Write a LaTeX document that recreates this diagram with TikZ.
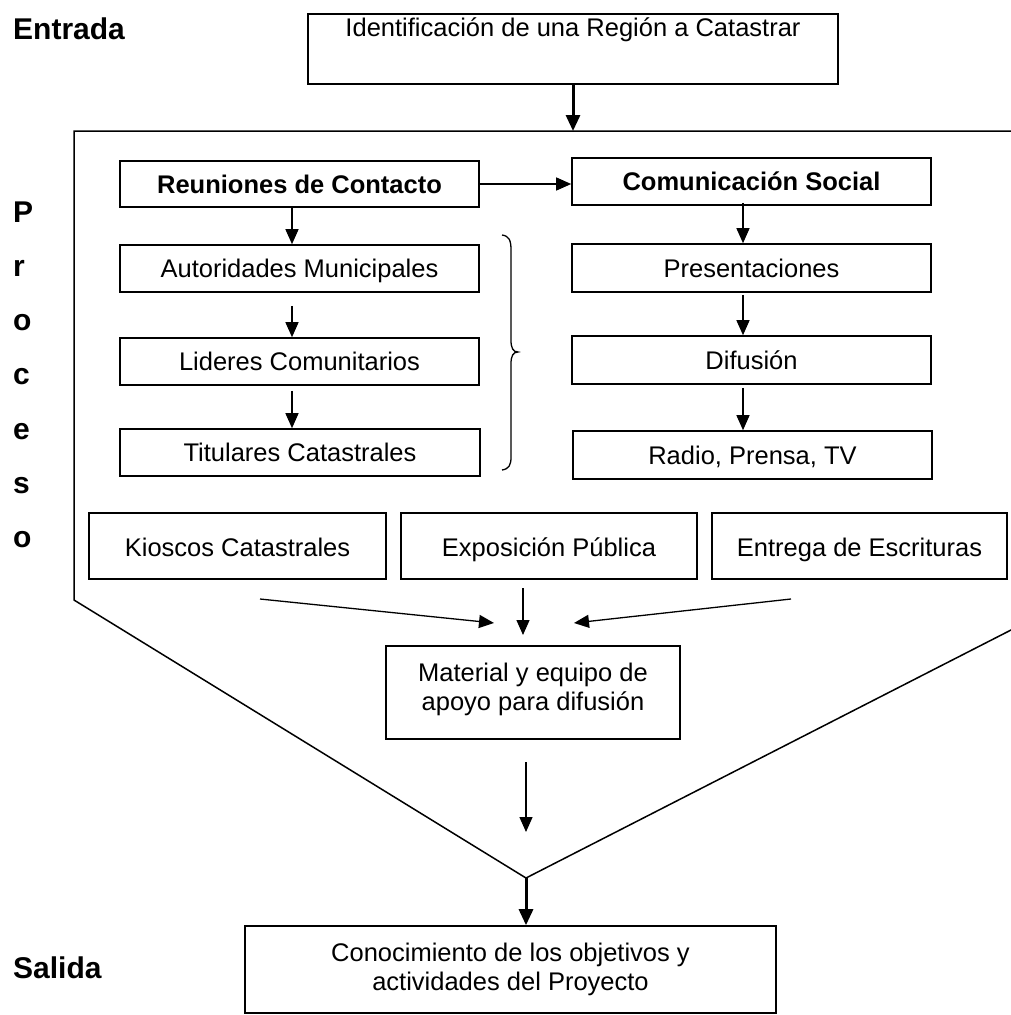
\documentclass[tikz,border=0pt]{standalone}
\usepackage{fontspec}
\setmainfont{Liberation Sans}
\usetikzlibrary{arrows.meta,calc}
\begin{document}
\begin{tikzpicture}[x=1pt,y=-1pt,
  box/.style={draw, line width=1.6pt, inner sep=0pt, rectangle},
  txt/.style={inner sep=0pt, anchor=base, font=\fontsize{25.5}{29.3}\selectfont},
  btxt/.style={inner sep=0pt, anchor=base, font=\fontsize{25.5}{29.3}\selectfont\bfseries},
  side/.style={inner sep=0pt, anchor=base west, font=\fontsize{30}{34}\selectfont\bfseries},
  thinarrow/.style={line width=1.3pt, -{Triangle[length=15pt,width=13pt]}},
  thickarrow/.style={line width=3pt, -{Triangle[length=16pt,width=14pt]}},
  frame/.style={line width=1.5pt}]

\useasboundingbox (0,0) rectangle (1011,1015);
\clip (0,0) rectangle (1011,1015);

% stage labels
\node[side] (lin) at (13,39) {Entrada};
\node[side] (lout) at (13,978) {Salida};
\foreach \ch [count=\i from 0] in {P,r,o,c,e,s,o}
  \node[side] (lp\i) at (13,222+54.3*\i) {\ch};

% input
\node[box, minimum width=530pt, minimum height=70pt] (top) at (573,49) {};
\node[txt] (toptxt) at (573,36) {Identificación de una Región a Catastrar};

% process frame
\coordinate (pin) at (573,131);
\coordinate (vtx) at (526,878);
\draw[frame] (1030,131) -- (74,131) -- (74,600) -- (vtx) -- ($(vtx)!1.1!(1011,630)$);

% left column
\node[box, minimum width=359pt, minimum height=46pt] (reun) at (299.5,184) {};
\node[btxt] (reuntxt) at (299.5,193) {Reuniones de Contacto};
\node[box, minimum width=359pt, minimum height=47pt] (aut) at (299.5,268.5) {};
\node[txt] (auttxt) at (299.5,277.5) {Autoridades Municipales};
\node[box, minimum width=359pt, minimum height=47pt] (lid) at (299.5,361.5) {};
\node[txt] (lidtxt) at (299.5,370.5) {Lideres Comunitarios};
\node[box, minimum width=360pt, minimum height=47pt] (tit) at (300,452.5) {};
\node[txt] (tittxt) at (300,461.5) {Titulares Catastrales};

% right column
\node[box, minimum width=359pt, minimum height=47pt] (com) at (751.5,181.5) {};
\node[btxt] (comtxt) at (751.5,190.5) {Comunicación Social};
\node[box, minimum width=359pt, minimum height=48pt] (pre) at (751.5,268) {};
\node[txt] (pretxt) at (751.5,277) {Presentaciones};
\node[box, minimum width=359pt, minimum height=48pt] (dif) at (751.5,360) {};
\node[txt] (diftxt) at (751.5,369) {Difusión};
\node[box, minimum width=359pt, minimum height=48pt] (rad) at (752.5,455) {};
\node[txt] (radtxt) at (752.5,464) {Radio, Prensa, TV};

% bottom row
\node[box, minimum width=297pt, minimum height=66pt] (kio) at (237.5,546) {};
\node[txt] (kiotxt) at (237.5,556) {Kioscos Catastrales};
\node[box, minimum width=296pt, minimum height=66pt] (exp) at (549,546) {};
\node[txt] (exptxt) at (549,556) {Exposición Pública};
\node[box, minimum width=295pt, minimum height=66pt] (ent) at (859.5,546) {};
\node[txt] (enttxt) at (859.5,556) {Entrega de Escrituras};

\node[box, minimum width=294pt, minimum height=93pt] (mat) at (533,692.5) {};
\node[txt] (mattxt1) at (533,681) {Material y equipo de};
\node[txt] (mattxt2) at (533,710) {apoyo para difusión};

% output
\node[box, minimum width=531pt, minimum height=87pt] (con) at (510.5,969.5) {};
\node[txt] (contxt1) at (510.5,961) {Conocimiento de los objetivos y};
\node[txt] (contxt2) at (510.5,990) {actividades del Proyecto};

% brace grouping the contact meetings
\draw[line width=1.3pt] (502,235) .. controls (509,236) and (511,240) .. (511,250)
  -- (511,340) .. controls (511,348) and (513,352) .. (518,352)
  .. controls (513,352) and (511,356) .. (511,364)
  -- (511,457) .. controls (511,465) and (509,469) .. (502,470);

% connectors
\coordinate (cl) at (292,0);
\coordinate (cr) at (743,0);
\draw[thickarrow] (top.south) -- (pin);
\draw[thinarrow] (reun.east) -- (reun.east -| com.west);
\draw[thinarrow] (reun.south -| cl) -- (aut.north -| cl);
\draw[thinarrow, shorten <=13pt] (aut.south -| cl) -- (lid.north -| cl);
\draw[thinarrow, shorten <=5pt] (lid.south -| cl) -- (tit.north -| cl);
\draw[thinarrow] ($(com.south -| cr)+(0,-3)$) -- (pre.north -| cr);
\draw[thinarrow, shorten <=2pt] (pre.south -| cr) -- (dif.north -| cr);
\draw[thinarrow, shorten <=3pt] (dif.south -| cr) -- (rad.north -| cr);

\coordinate (fl0) at (260,599);
\coordinate (fl1) at (494,623);
\coordinate (fm0) at (523,588);
\coordinate (fm1) at (523,635);
\coordinate (fr0) at (791,599);
\coordinate (fr1) at (574,623);
\draw[thinarrow] (fl0) -- (fl1);
\draw[thinarrow] (fm0) -- (fm1);
\draw[thinarrow] (fr0) -- (fr1);

\coordinate (dm0) at (526,762);
\coordinate (dm1) at (526,832);
\draw[thinarrow] (dm0) -- (dm1);
\draw[thickarrow] (vtx) -- (con.north -| vtx);
\end{tikzpicture}
\end{document}
